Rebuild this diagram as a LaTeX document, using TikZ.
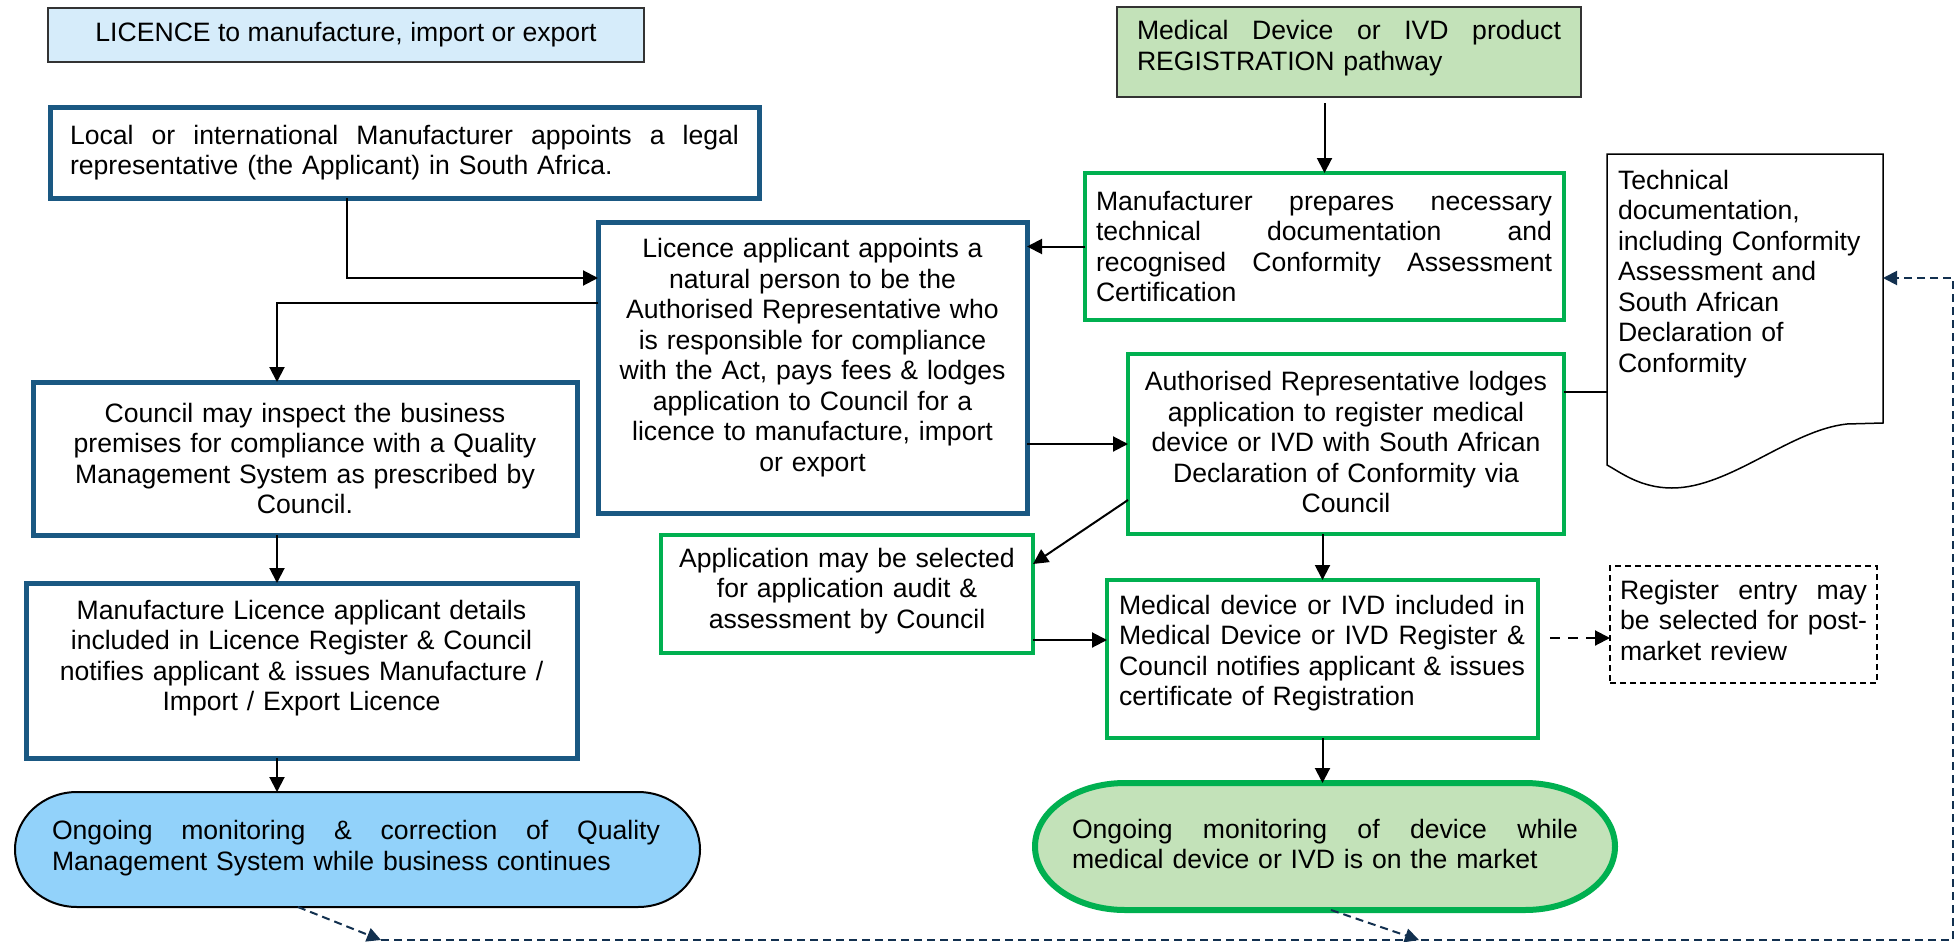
\documentclass[tikz,border=0pt]{standalone}
\usepackage{fontspec}
\setmainfont{Liberation Sans}
\usetikzlibrary{arrows.meta,calc}

\definecolor{navybox}{HTML}{1A5882}
\definecolor{greenbox}{HTML}{00B050}
\definecolor{licfill}{HTML}{D6ECFA}
\definecolor{regfill}{HTML}{C3E2B9}
\definecolor{monblue}{HTML}{92D2FA}
\definecolor{loopnavy}{HTML}{12304F}
\definecolor{thinframe}{HTML}{333333}

% one fully justified line of the given width (word gaps share the slack)
\newcommand\jline[2]{{\spaceskip=0.28em plus 1fil\relax\xspaceskip=\spaceskip
  \makebox[#1][s]{#2}}}

\begin{document}
\begin{tikzpicture}[x=0.5pt,y=0.5pt,
  font=\fontsize{13.3pt}{15.25pt}\selectfont,
  every node/.style={inner sep=0pt,outer sep=0pt},
  navyframe/.style={draw=navybox,line width=2.5pt},
  greenframe/.style={draw=greenbox,line width=2.4pt},
  titlebox/.style={draw=thinframe,line width=0.75pt},
  regbox/.style={draw=black,line width=0.75pt,dash pattern=on 3pt off 2pt},
  docbox/.style={draw=black,line width=0.75pt,fill=white},
  centred/.style={align=center,text width=#1},
  flush/.style={align=left,text width=#1},
  arr/.style={draw=black,line width=1pt,-{Triangle[length=7.5pt,width=7.5pt]}},
  plainline/.style={draw=black,line width=1pt},
  dasharr/.style={arr,dash pattern=on 5pt off 4pt},
  loopline/.style={draw=loopnavy,line width=1pt,dash pattern=on 4pt off 2.5pt},
  looparr/.style={loopline,-{Triangle[length=7pt,width=7pt]}}
]
\fill[white] (0,0) rectangle (1960,-942);
\useasboundingbox (0,0) rectangle (1960,-942);

% ---------- licence pathway (left) ----------
\node[titlebox,fill=licfill,minimum width=298pt,minimum height=27pt] (lic) at (346,-35) {};
\node (lic-t) at (346,-35) {LICENCE to manufacture, import or export};

\node[navyframe,minimum width=354.5pt,minimum height=45.5pt] (local) at (404.5,-152.5) {};
\node[flush=334.5pt] (local-t) at (404.5,-152.5)
  {\jline{334.5pt}{Local or international Manufacturer appoints a legal}\\
   representative (the Applicant) in South Africa.};

\node[navyframe,minimum width=214.5pt,minimum height=145.5pt] (appl) at (812.5,-367.5) {};
\node[centred=205pt] (appl-t) at (812.5,-357.5)
  {Licence applicant appoints a\\ natural person to be the\\ Authorised Representative who\\
   is responsible for compliance\\ with the Act, pays fees \& lodges\\
   application to Council for a\\ licence to manufacture, import\\ or export};

\node[navyframe,minimum width=272pt,minimum height=76.5pt] (council) at (305,-458.5) {};
\node[centred=250pt] (council-t) at (305,-458.5)
  {Council may inspect the business\\ premises for compliance with a Quality\\
   Management System as prescribed by\\ Council.};

\node[navyframe,minimum width=275.5pt,minimum height=87.5pt] (manu) at (301.5,-670.5) {};
\node[centred=255pt] (manu-t) at (301.5,-658)
  {Manufacture Licence applicant details\\ included in Licence Register \& Council\\
   notifies applicant \& issues Manufacture /\\ Import / Export Licence};

\node[minimum width=342.5pt,minimum height=57.5pt] (mon1) at (357.5,-849.5) {};
\path[draw=black,line width=1pt,fill=monblue]
  ([xshift=31pt]mon1.north west) -- ([xshift=-31pt]mon1.north east)
  arc[start angle=90,end angle=-90,x radius=31pt,y radius=28.75pt]
  -- ([xshift=31pt]mon1.south west)
  arc[start angle=270,end angle=90,x radius=31pt,y radius=28.75pt] -- cycle;
\node[flush=304pt] (mon1-t) at (356,-848)
  {\jline{304pt}{Ongoing monitoring \& correction of Quality}\\
   Management System while business continues};

% ---------- registration pathway (right) ----------
\node[titlebox,fill=regfill,minimum width=232pt,minimum height=45pt] (hdr) at (1349,-52) {};
\node[flush=212pt] (hdr-t) at (1349,-48)
  {\jline{212pt}{Medical Device or IVD product}\\ REGISTRATION pathway};

\node[greenframe,minimum width=239.5pt,minimum height=73.5pt] (prep) at (1324.5,-246.5) {};
\node[flush=228pt] (prep-t) at (1324,-246.5)
  {\jline{228pt}{Manufacturer prepares necessary}\\
   \jline{228pt}{technical documentation and}\\
   \jline{228pt}{recognised Conformity Assessment}\\ Certification};

\node[minimum width=138pt,minimum height=167pt] (doc) at (1745,-321) {};
\path[docbox] (doc.north west) -- (doc.north east) -- (1883,-423) -- (1847,-424)
  .. controls (1790,-430) and (1730,-488) .. (1672,-488)
  .. controls (1640,-488) and (1620,-472) .. (1607,-465) -- cycle;
\node[flush=134pt,anchor=north west] (doc-t) at (1618,-170)
  {Technical\\ documentation,\\ including Conformity\\ Assessment and\\
   South African\\ Declaration of\\ Conformity};

\node[greenframe,minimum width=218pt,minimum height=90pt] (auth) at (1346,-444) {};
\node[centred=210pt] (auth-t) at (1346,-442)
  {Authorised Representative lodges\\ application to register medical\\
   device or IVD with South African\\ Declaration of Conformity via\\ Council};

\node[greenframe,line width=2pt,minimum width=186pt,minimum height=59pt] (sel) at (847,-594) {};
\node[centred=178pt] (sel-t) at (847,-591)
  {Application may be selected\\ for application audit \&\\ assessment by Council};

\node[greenframe,minimum width=215.5pt,minimum height=79pt] (med) at (1322.5,-659) {};
\node[flush=203pt] (med-t) at (1322,-653)
  {\jline{203pt}{Medical device or IVD included in}\\
   \jline{203pt}{Medical Device or IVD Register \&}\\
   \jline{203pt}{Council notifies applicant \& issues}\\ certificate of Registration};

\node[regbox,minimum width=133.5pt,minimum height=58.5pt] (reg) at (1743.5,-624.5) {};
\node[flush=123.5pt] (reg-t) at (1743.5,-620)
  {\jline{123.5pt}{Register entry may}\\ \jline{123.5pt}{be selected for post-}\\ market review};

\node[minimum width=290pt,minimum height=63.5pt] (mon2) at (1325,-846.5) {};
\path[draw=greenbox,line width=3pt,fill=regfill]
  ([xshift=45pt]mon2.north west) -- ([xshift=-45pt]mon2.north east)
  arc[start angle=90,end angle=-90,x radius=45pt,y radius=31.75pt]
  -- ([xshift=45pt]mon2.south west)
  arc[start angle=270,end angle=90,x radius=45pt,y radius=31.75pt] -- cycle;
\node[flush=253pt] (mon2-t) at (1325,-844)
  {\jline{253pt}{Ongoing monitoring of device while}\\
   medical device or IVD is on the market};

% ---------- connectors ----------
\coordinate (xL) at (277,0);
\draw[arr] ([xshift=-28.75pt]local.south) |- ([yshift=44.75pt]appl.west);
\draw[arr] ([yshift=32.25pt]appl.west) -| (council.north -| xL);
\draw[arr] (council.south -| xL) -- (manu.north -| xL);
\draw[arr] (manu.south -| xL) -- (mon1.north -| xL);

\draw[arr] (prep.west) -- (prep.west -| appl.east);
\draw[arr,shorten <=3pt] (hdr.south -| prep.north) -- (prep.north);
\draw[arr] (auth.west -| appl.east) -- (auth.west);
\draw[arr] ([yshift=-28pt]auth.west) -- ([yshift=15pt]sel.east);
\coordinate (s1) at ([yshift=-23pt]sel.east);
\draw[arr] (s1) -- (s1 -| med.west);
\draw[arr] (auth.south -| med.north) -- (med.north);
\draw[arr] (med.south) -- (med.south |- mon2.north);
\coordinate (m1) at ([xshift=6pt,yshift=10.5pt]med.east);
\draw[dasharr] (m1) -- (m1 -| reg.west);
\coordinate (a1) at ([yshift=26pt]auth.east);
\draw[plainline] (a1) -- (a1 -| doc.west);

% feedback loop along the bottom and right edge
\coordinate (b1) at (381,-940);
\coordinate (b2) at (1419,-940);
\coordinate (br) at (1953,-940);
\coordinate (tr) at (1953,-278);
\draw[looparr] ([xshift=-29.75pt]mon1.south) -- (b1);
\draw[looparr] ([xshift=3pt]mon2.south) -- (b2);
\draw[looparr] (b1) -- (br) -- (tr) -- (tr -| doc.east);
\end{tikzpicture}
\end{document}
